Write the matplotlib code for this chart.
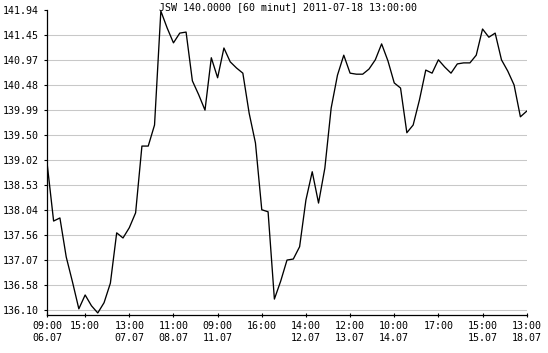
import matplotlib
matplotlib.use("Agg")
import matplotlib.pyplot as plt

title = "JSW 140.0000 [60 minut] 2011-07-18 13:00:00"

# trading sessions, hourly bars 09:00-17:00
days = ["06.07", "07.07", "08.07", "11.07", "12.07", "13.07", "14.07", "15.07", "18.07"]
hours = ["09:00", "10:00", "11:00", "12:00", "13:00", "14:00", "15:00", "16:00", "17:00"]

prices = [138.92, 137.83, 137.89, 137.13, 136.64, 136.12, 136.39, 136.18, 136.04, 136.24,
          136.62, 137.60, 137.50, 137.70, 137.99, 139.29, 139.29, 139.70, 141.92, 141.59,
          141.30, 141.49, 141.51, 140.56, 140.29, 139.99, 141.01, 140.62, 141.20, 140.93,
          140.81, 140.71, 139.93, 139.35, 138.05, 138.01, 136.31, 136.66, 137.07, 137.09,
          137.33, 138.24, 138.79, 138.18, 138.86, 140.03, 140.67, 141.06, 140.71, 140.69,
          140.69, 140.79, 140.97, 141.28, 140.95, 140.52, 140.42, 139.55, 139.70, 140.19,
          140.77, 140.71, 140.97, 140.83, 140.71, 140.89, 140.91, 140.91, 141.06, 141.57,
          141.41, 141.49, 140.97, 140.75, 140.48, 139.86, 139.97]

ytick_labels = ["141.94", "141.45", "140.97", "140.48", "139.99", "139.50", "139.02",
                "138.53", "138.04", "137.56", "137.07", "136.58", "136.10"]

xtick_times = [("06.07", "09:00"), ("06.07", "15:00"), ("07.07", "13:00"), ("08.07", "11:00"),
               ("11.07", "09:00"), ("11.07", "16:00"), ("12.07", "14:00"), ("13.07", "12:00"),
               ("14.07", "10:00"), ("14.07", "17:00"), ("15.07", "15:00"), ("18.07", "13:00")]

stamps = [(d, h) for d in days for h in hours][:len(prices)]
idx = list(range(len(prices)))

plt.rcParams['font.family'] = ['DejaVu Sans Mono']
fs = 7.2

fig = plt.figure(figsize=(5.48, 3.53), dpi=100)
ax = fig.add_axes([47.3 / 548, 1 - 315 / 353, (526.7 - 47.3) / 548, (315 - 10) / 353])

yvals = [float(s) for s in ytick_labels]
ax.hlines(yvals[1:], 0, len(prices) - 1, colors="#c8c8c8", linewidth=0.75, zorder=1)
ax.plot(idx, prices, color="black", linewidth=0.95, zorder=3)

ax.set_xlim(0, len(prices) - 1)
ax.set_ylim(136.0, 141.94)

ax.set_yticks(yvals)
ax.set_yticklabels(ytick_labels, fontsize=fs)

xt, xl = [], []
prev_day = None
for d, h in xtick_times:
    xt.append(stamps.index((d, h)))
    xl.append(h + "\n" + d if d != prev_day else h)
    prev_day = d
ax.set_xticks(xt)
ax.set_xticklabels(xl, fontsize=fs, linespacing=1.25)

ax.tick_params(axis="y", direction="out", length=2.5, width=0.8, pad=3.5)
ax.tick_params(axis="x", direction="inout", length=3, width=0.8, pad=2.5)
for s in ["top", "right"]:
    ax.spines[s].set_visible(False)
for s in ["left", "bottom"]:
    ax.spines[s].set_linewidth(0.9)

fig.text(159 / 548, 1 - 2 / 353, title, fontsize=fs, ha="left", va="top")

fig.savefig("out.png", dpi=100)
